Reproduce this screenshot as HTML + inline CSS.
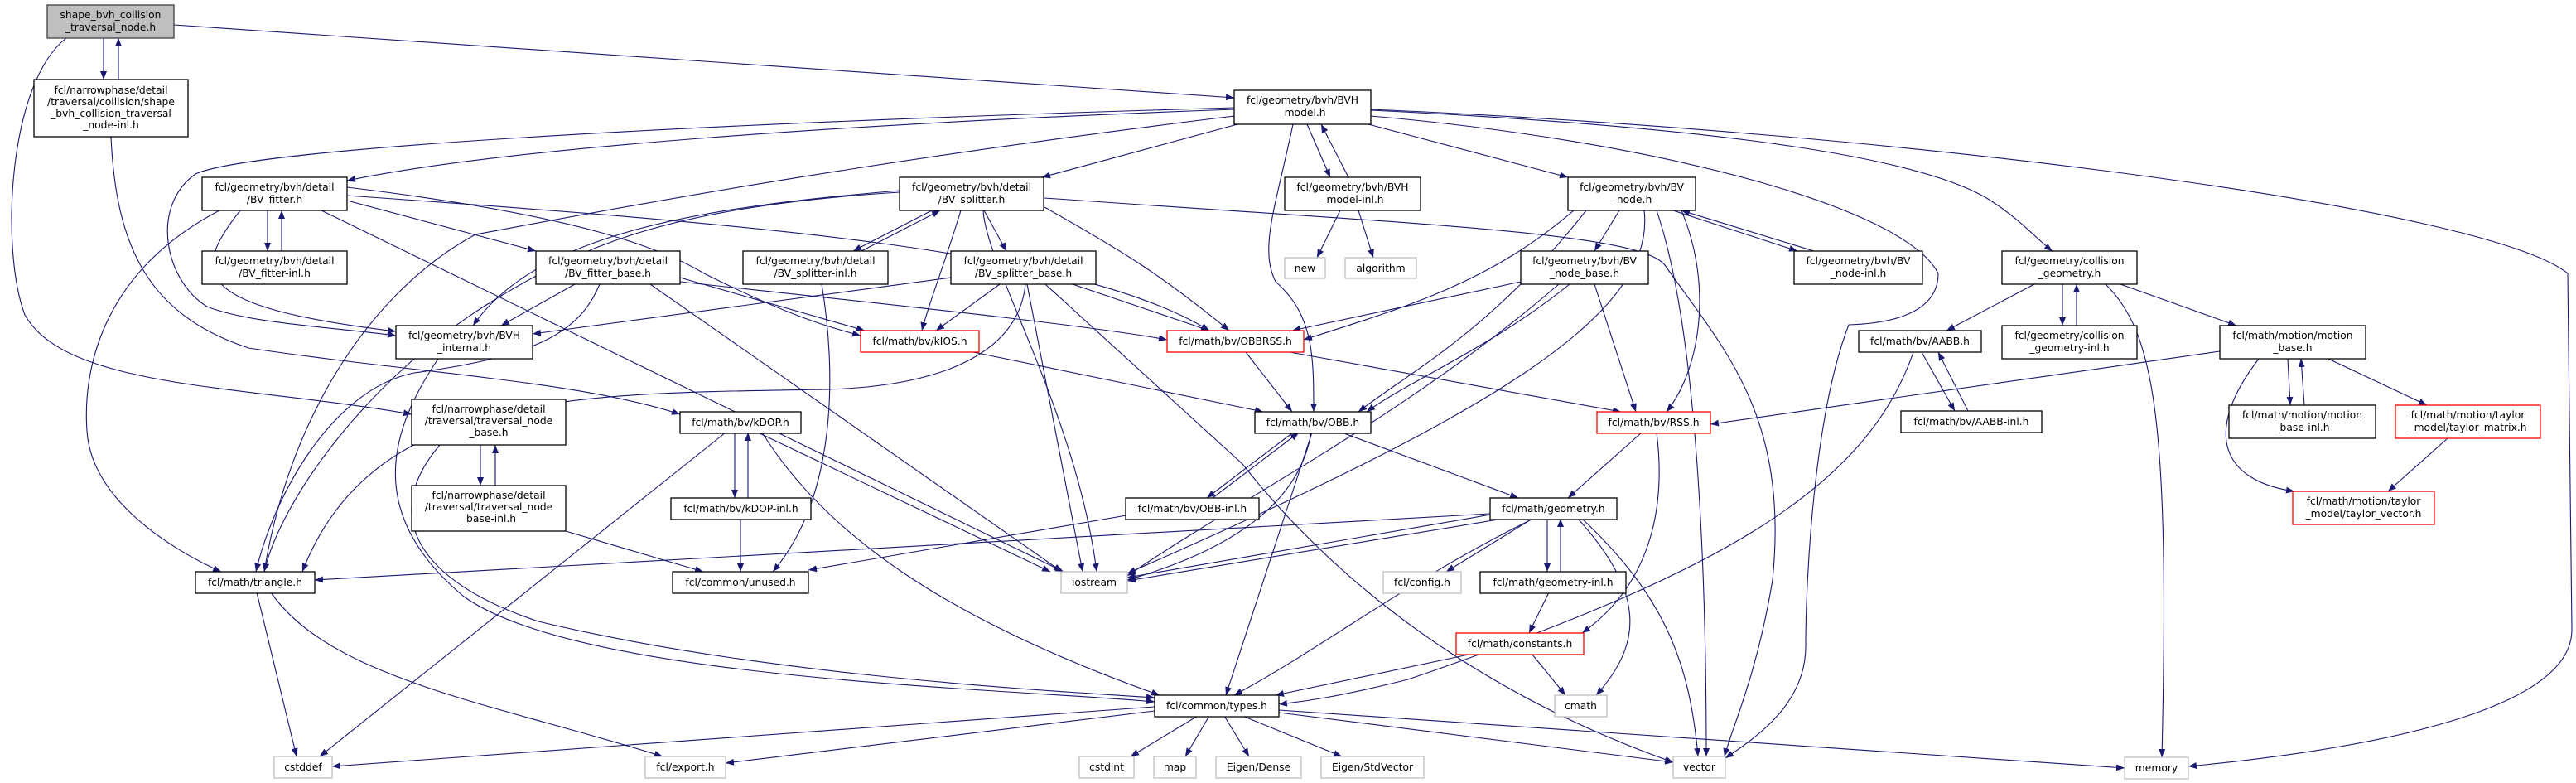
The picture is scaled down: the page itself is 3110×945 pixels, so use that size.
<!DOCTYPE html>
<html><head><meta charset="utf-8"><style>
html,body{margin:0;padding:0;background:#fff;}
svg{display:block;}
text{font-family:"DejaVu Sans","Liberation Sans",sans-serif;font-size:12.3px;fill:#000;text-anchor:middle;}
.n{fill:#fff;stroke:#000;stroke-width:1.3;}
.r{fill:#fff;stroke:#ff0000;stroke-width:1.3;}
.g{fill:#fff;stroke:#bfbfbf;stroke-width:1.3;}
.e{fill:none;stroke:#191970;stroke-width:1.1;marker-end:url(#a);}
</style></head><body>
<svg width="3110" height="945" viewBox="0 0 3110 945" xmlns="http://www.w3.org/2000/svg">
<defs><marker id="a" markerUnits="userSpaceOnUse" markerWidth="11" markerHeight="8" refX="10" refY="4" orient="auto"><path d="M0,0 L10,4 L0,8 z" fill="#191970"/></marker></defs>
<g>
<path class="e" d="M125,46 L125,96"/>
<path class="e" d="M143,96 L143,46"/>
<path class="e" d="M210,30 L1490,118"/>
<path class="e" d="M80,46 C10,100 0,300 30,380 C80,470 300,465 497,500"/>
<path class="e" d="M134,165 C140,300 180,380 300,420 C500,450 700,460 821,500"/>
<path class="e" d="M1490,132 C1000,150 600,180 419,218"/>
<path class="e" d="M1490,130 C800,150 300,180 236,210 C180,250 200,340 250,370 C300,390 400,395 478,405"/>
<path class="e" d="M1494,150 L1258,214"/>
<path class="e" d="M1578,150 L1606,214"/>
<path class="e" d="M1628,214 L1595,150"/>
<path class="e" d="M1652,150 L1893,214"/>
<path class="e" d="M1655,133 C2000,150 2300,180 2400,240 C2440,265 2460,290 2478,303"/>
<path class="e" d="M1655,132 C2300,160 3000,250 3100,330 L3105,760 C3105,850 2900,900 2642,925"/>
<path class="e" d="M1655,140 C2000,170 2300,250 2340,330 C2340,370 2300,390 2232,392 C2190,500 2180,700 2180,780 C2180,850 2120,890 2083,915"/>
<path class="e" d="M1561,150 C1540,250 1520,300 1540,340 C1586,380 1586,430 1586,497"/>
<path class="e" d="M1490,140 C1000,200 700,260 574,283 C450,350 350,500 319,690"/>
<path class="e" d="M323,254 L323,303"/>
<path class="e" d="M340,303 L340,254"/>
<path class="e" d="M419,242 L647,303"/>
<path class="e" d="M290,254 C230,330 230,370 478,400"/>
<path class="e" d="M265,254 C120,330 100,450 105,520 C110,600 200,660 267,690"/>
<path class="e" d="M419,226 C700,260 800,300 850,330 C950,380 1000,395 1039,405"/>
<path class="e" d="M419,236 C900,270 1300,300 1460,399"/>
<path class="e" d="M388,254 L1284,690"/>
<path class="e" d="M694,343 L605,393"/>
<path class="e" d="M821,335 L1044,399"/>
<path class="e" d="M821,340 C1000,360 1300,390 1409,410"/>
<path class="e" d="M724,343 C700,400 650,430 500,450 C400,470 330,600 309,690"/>
<path class="e" d="M785,343 L1282,690"/>
<path class="e" d="M1125,254 L1030,303"/>
<path class="e" d="M1040,303 L1135,254"/>
<path class="e" d="M1188,254 L1215,303"/>
<path class="e" d="M1086,230 C850,250 650,280 571,393"/>
<path class="e" d="M1148,335 L643,403"/>
<path class="e" d="M1160,254 C1140,320 1120,370 1113,399"/>
<path class="e" d="M1261,250 C1350,300 1400,330 1484,399"/>
<path class="e" d="M1187,254 C1190,320 1300,500 1324,690"/>
<path class="e" d="M1261,239 C1700,270 1980,280 2010,320 C2080,420 2160,500 2140,700 C2120,820 2090,880 2082,913"/>
<path class="e" d="M992,343 C1010,450 1010,600 933,690"/>
<path class="e" d="M1086,232 C800,250 700,300 600,360 C450,450 340,600 319,690"/>
<path class="e" d="M1207,343 L1130,399"/>
<path class="e" d="M1295,343 L1460,399"/>
<path class="e" d="M1240,343 L1307,690"/>
<path class="e" d="M1262,343 L1500,560 C1650,750 1850,860 2020,920"/>
<path class="e" d="M1238,343 C1230,420 1150,465 1000,470 C700,475 450,470 365,690"/>
<path class="e" d="M529,433 C470,520 440,620 560,720 C700,820 1200,830 1394,847"/>
<path class="e" d="M531,537 C460,620 500,700 650,750 C900,810 1200,830 1394,842"/>
<path class="e" d="M580,537 L580,586"/>
<path class="e" d="M598,586 L598,537"/>
<path class="e" d="M683,641 L849,690"/>
<path class="e" d="M887,522 L887,601"/>
<path class="e" d="M903,601 L903,522"/>
<path class="e" d="M876,522 L386,913"/>
<path class="e" d="M915,522 L1268,690"/>
<path class="e" d="M920,522 C1000,650 1150,750 1400,839"/>
<path class="e" d="M894,626 L894,690"/>
<path class="e" d="M310,715 L358,913"/>
<path class="e" d="M327,715 C400,820 600,850 800,913"/>
<path class="e" d="M1394,853 L401,925"/>
<path class="e" d="M1394,858 L876,921"/>
<path class="e" d="M1446,864 L1365,913"/>
<path class="e" d="M1460,864 L1431,913"/>
<path class="e" d="M1478,864 L1508,913"/>
<path class="e" d="M1500,864 L1620,913"/>
<path class="e" d="M1544,860 L2020,920"/>
<path class="e" d="M1544,857 L2565,927"/>
<path class="e" d="M1504,425 L1560,497"/>
<path class="e" d="M1557,425 L1957,497"/>
<path class="e" d="M1175,425 L1525,497"/>
<path class="e" d="M1561,522 L1457,601"/>
<path class="e" d="M1464,601 L1568,522"/>
<path class="e" d="M1583,522 C1570,600 1500,660 1361,700"/>
<path class="e" d="M1584,522 L1480,839"/>
<path class="e" d="M1620,522 L1833,601"/>
<path class="e" d="M1982,522 L1893,601"/>
<path class="e" d="M2000,522 C2010,600 2000,700 1910,764"/>
<path class="e" d="M1360,622 L976,688"/>
<path class="e" d="M1800,621 L1361,697"/>
<path class="e" d="M1815,626 L1361,701"/>
<path class="e" d="M1850,626 L1746,690"/>
<path class="e" d="M1868,626 L1868,690"/>
<path class="e" d="M1884,690 L1884,626"/>
<path class="e" d="M1870,715 L1846,764"/>
<path class="e" d="M1905,626 C1990,720 1980,780 1927,839"/>
<path class="e" d="M1910,626 C2010,720 2040,800 2050,913"/>
<path class="e" d="M1851,626 C1700,700 1600,780 1490,839"/>
<path class="e" d="M1799,620 L380,700"/>
<path class="e" d="M1773,790 L1540,839"/>
<path class="e" d="M1850,790 L1890,839"/>
<path class="e" d="M2020,254 L2170,303"/>
<path class="e" d="M2190,303 L2030,254"/>
<path class="e" d="M1955,254 L1925,303"/>
<path class="e" d="M1900,254 C1800,340 1700,370 1574,410"/>
<path class="e" d="M1915,254 C1800,400 1700,450 1640,497"/>
<path class="e" d="M2030,254 C2070,350 2050,450 2012,497"/>
<path class="e" d="M1985,254 C2000,380 1800,500 1361,692"/>
<path class="e" d="M2000,254 C2050,400 2060,700 2060,913"/>
<path class="e" d="M1836,340 L1560,399"/>
<path class="e" d="M1895,343 C1800,420 1700,460 1650,497"/>
<path class="e" d="M1925,343 L1975,497"/>
<path class="e" d="M1882,343 C1700,500 1500,600 1361,695"/>
<path class="e" d="M1618,254 L1590,311"/>
<path class="e" d="M1640,254 L1658,311"/>
<path class="e" d="M2456,343 L2350,399"/>
<path class="e" d="M2490,343 L2490,393"/>
<path class="e" d="M2507,393 L2507,343"/>
<path class="e" d="M2542,343 C2600,400 2620,500 2610,914"/>
<path class="e" d="M2560,343 L2700,393"/>
<path class="e" d="M2310,425 C2250,600 2050,700 1700,820 C1600,845 1560,848 1544,850"/>
<path class="e" d="M2320,425 L2360,496"/>
<path class="e" d="M2376,496 L2340,425"/>
<path class="e" d="M2680,424 L2065,512"/>
<path class="e" d="M2762,433 L2765,489"/>
<path class="e" d="M2782,489 L2778,433"/>
<path class="e" d="M2811,433 L2930,489"/>
<path class="e" d="M2727,433 C2660,520 2680,580 2770,593"/>
<path class="e" d="M2955,529 L2883,593"/>
</g>
<g>
<rect x="57" y="6" width="153" height="40" fill="#bfbfbf" stroke="#404040" stroke-width="1.3"/>
<text x="133.5" y="22">shape_bvh_collision</text><text x="133.5" y="37">_traversal_node.h</text>
<rect class="n" x="41" y="96" width="186" height="69"/>
<text x="134" y="113">fcl/narrowphase/detail</text><text x="134" y="127">/traversal/collision/shape</text><text x="134" y="141">_bvh_collision_traversal</text><text x="134" y="155">_node-inl.h</text>
<rect class="n" x="244" y="214" width="175" height="40"/><text x="331.5" y="230">fcl/geometry/bvh/detail</text><text x="331.5" y="245">/BV_fitter.h</text>
<rect class="n" x="244" y="303" width="175" height="40"/><text x="331.5" y="319">fcl/geometry/bvh/detail</text><text x="331.5" y="334">/BV_fitter-inl.h</text>
<rect class="n" x="647" y="303" width="174" height="40"/><text x="734" y="319">fcl/geometry/bvh/detail</text><text x="734" y="334">/BV_fitter_base.h</text>
<rect class="n" x="478" y="393" width="165" height="40"/><text x="560.5" y="409">fcl/geometry/bvh/BVH</text><text x="560.5" y="424">_internal.h</text>
<rect class="n" x="1490" y="109" width="165" height="41"/><text x="1572.5" y="125">fcl/geometry/bvh/BVH</text><text x="1572.5" y="140">_model.h</text>
<rect class="n" x="1086" y="214" width="174" height="40"/><text x="1173" y="230">fcl/geometry/bvh/detail</text><text x="1173" y="245">/BV_splitter.h</text>
<rect class="n" x="897" y="303" width="175" height="40"/><text x="984.5" y="319">fcl/geometry/bvh/detail</text><text x="984.5" y="334">/BV_splitter-inl.h</text>
<rect class="n" x="1148" y="303" width="175" height="40"/><text x="1235.5" y="319">fcl/geometry/bvh/detail</text><text x="1235.5" y="334">/BV_splitter_base.h</text>
<rect class="r" x="1039" y="399" width="143" height="26"/><text x="1110.5" y="416">fcl/math/bv/kIOS.h</text>
<rect class="r" x="1409" y="399" width="165" height="26"/><text x="1491.5" y="416">fcl/math/bv/OBBRSS.h</text>
<rect class="n" x="1551" y="214" width="164" height="40"/><text x="1633" y="230">fcl/geometry/bvh/BVH</text><text x="1633" y="245">_model-inl.h</text>
<rect class="g" x="1551" y="311" width="49" height="25"/><text x="1575.5" y="328">new</text>
<rect class="g" x="1624" y="311" width="86" height="25"/><text x="1667" y="328">algorithm</text>
<rect class="n" x="1893" y="214" width="154" height="40"/><text x="1970" y="230">fcl/geometry/bvh/BV</text><text x="1970" y="245">_node.h</text>
<rect class="n" x="1836" y="303" width="154" height="40"/><text x="1913" y="319">fcl/geometry/bvh/BV</text><text x="1913" y="334">_node_base.h</text>
<rect class="n" x="2166" y="303" width="155" height="40"/><text x="2243.5" y="319">fcl/geometry/bvh/BV</text><text x="2243.5" y="334">_node-inl.h</text>
<rect class="n" x="2417" y="303" width="163" height="40"/><text x="2498.5" y="319">fcl/geometry/collision</text><text x="2498.5" y="334">_geometry.h</text>
<rect class="n" x="2244" y="399" width="148" height="26"/><text x="2318" y="416">fcl/math/bv/AABB.h</text>
<rect class="n" x="2417" y="393" width="163" height="40"/><text x="2498.5" y="409">fcl/geometry/collision</text><text x="2498.5" y="424">_geometry-inl.h</text>
<rect class="n" x="2680" y="393" width="176" height="40"/><text x="2768" y="409">fcl/math/motion/motion</text><text x="2768" y="424">_base.h</text>
<rect class="n" x="2295" y="496" width="170" height="26"/><text x="2380" y="513">fcl/math/bv/AABB-inl.h</text>
<rect class="n" x="2691" y="489" width="177" height="40"/><text x="2779.5" y="505">fcl/math/motion/motion</text><text x="2779.5" y="520">_base-inl.h</text>
<rect class="r" x="2892" y="489" width="175" height="40"/><text x="2979.5" y="505">fcl/math/motion/taylor</text><text x="2979.5" y="520">_model/taylor_matrix.h</text>
<rect class="r" x="2768" y="593" width="171" height="40"/><text x="2853.5" y="609">fcl/math/motion/taylor</text><text x="2853.5" y="624">_model/taylor_vector.h</text>
<rect class="g" x="2565" y="914" width="77" height="26"/><text x="2603.5" y="931">memory</text>
<rect class="n" x="497" y="482" width="186" height="55"/><text x="590" y="498">fcl/narrowphase/detail</text><text x="590" y="512">/traversal/traversal_node</text><text x="590" y="526">_base.h</text>
<rect class="n" x="497" y="586" width="186" height="55"/><text x="590" y="602">fcl/narrowphase/detail</text><text x="590" y="616">/traversal/traversal_node</text><text x="590" y="630">_base-inl.h</text>
<rect class="n" x="821" y="497" width="146" height="26"/><text x="894" y="514">fcl/math/bv/kDOP.h</text>
<rect class="n" x="810" y="601" width="169" height="26"/><text x="894.5" y="618">fcl/math/bv/kDOP-inl.h</text>
<rect class="n" x="236" y="690" width="144" height="26"/><text x="308" y="707">fcl/math/triangle.h</text>
<rect class="n" x="812" y="690" width="164" height="26"/><text x="894" y="707">fcl/common/unused.h</text>
<rect class="g" x="331" y="913" width="70" height="26"/><text x="366" y="930">cstddef</text>
<rect class="g" x="779" y="913" width="97" height="26"/><text x="827.5" y="930">fcl/export.h</text>
<rect class="n" x="1515" y="497" width="140" height="26"/><text x="1585" y="514">fcl/math/bv/OBB.h</text>
<rect class="r" x="1928" y="497" width="137" height="26"/><text x="1996.5" y="514">fcl/math/bv/RSS.h</text>
<rect class="n" x="1359" y="601" width="161" height="26"/><text x="1439.5" y="618">fcl/math/bv/OBB-inl.h</text>
<rect class="n" x="1799" y="601" width="153" height="26"/><text x="1875.5" y="618">fcl/math/geometry.h</text>
<rect class="g" x="1281" y="690" width="80" height="26"/><text x="1321" y="707">iostream</text>
<rect class="g" x="1670" y="690" width="94" height="26"/><text x="1717" y="707">fcl/config.h</text>
<rect class="n" x="1787" y="690" width="176" height="26"/><text x="1875" y="707">fcl/math/geometry-inl.h</text>
<rect class="r" x="1758" y="764" width="154" height="26"/><text x="1835" y="781">fcl/math/constants.h</text>
<rect class="n" x="1394" y="839" width="150" height="26"/><text x="1469" y="856">fcl/common/types.h</text>
<rect class="g" x="1877" y="839" width="63" height="26"/><text x="1908.5" y="856">cmath</text>
<rect class="g" x="1303" y="913" width="66" height="26"/><text x="1336" y="930">cstdint</text>
<rect class="g" x="1393" y="913" width="51" height="26"/><text x="1418.5" y="930">map</text>
<rect class="g" x="1468" y="913" width="103" height="26"/><text x="1519.5" y="930">Eigen/Dense</text>
<rect class="g" x="1595" y="913" width="124" height="26"/><text x="1657" y="930">Eigen/StdVector</text>
<rect class="g" x="2020" y="913" width="63" height="26"/><text x="2051.5" y="930">vector</text>
</g>
</svg>
</body></html>
